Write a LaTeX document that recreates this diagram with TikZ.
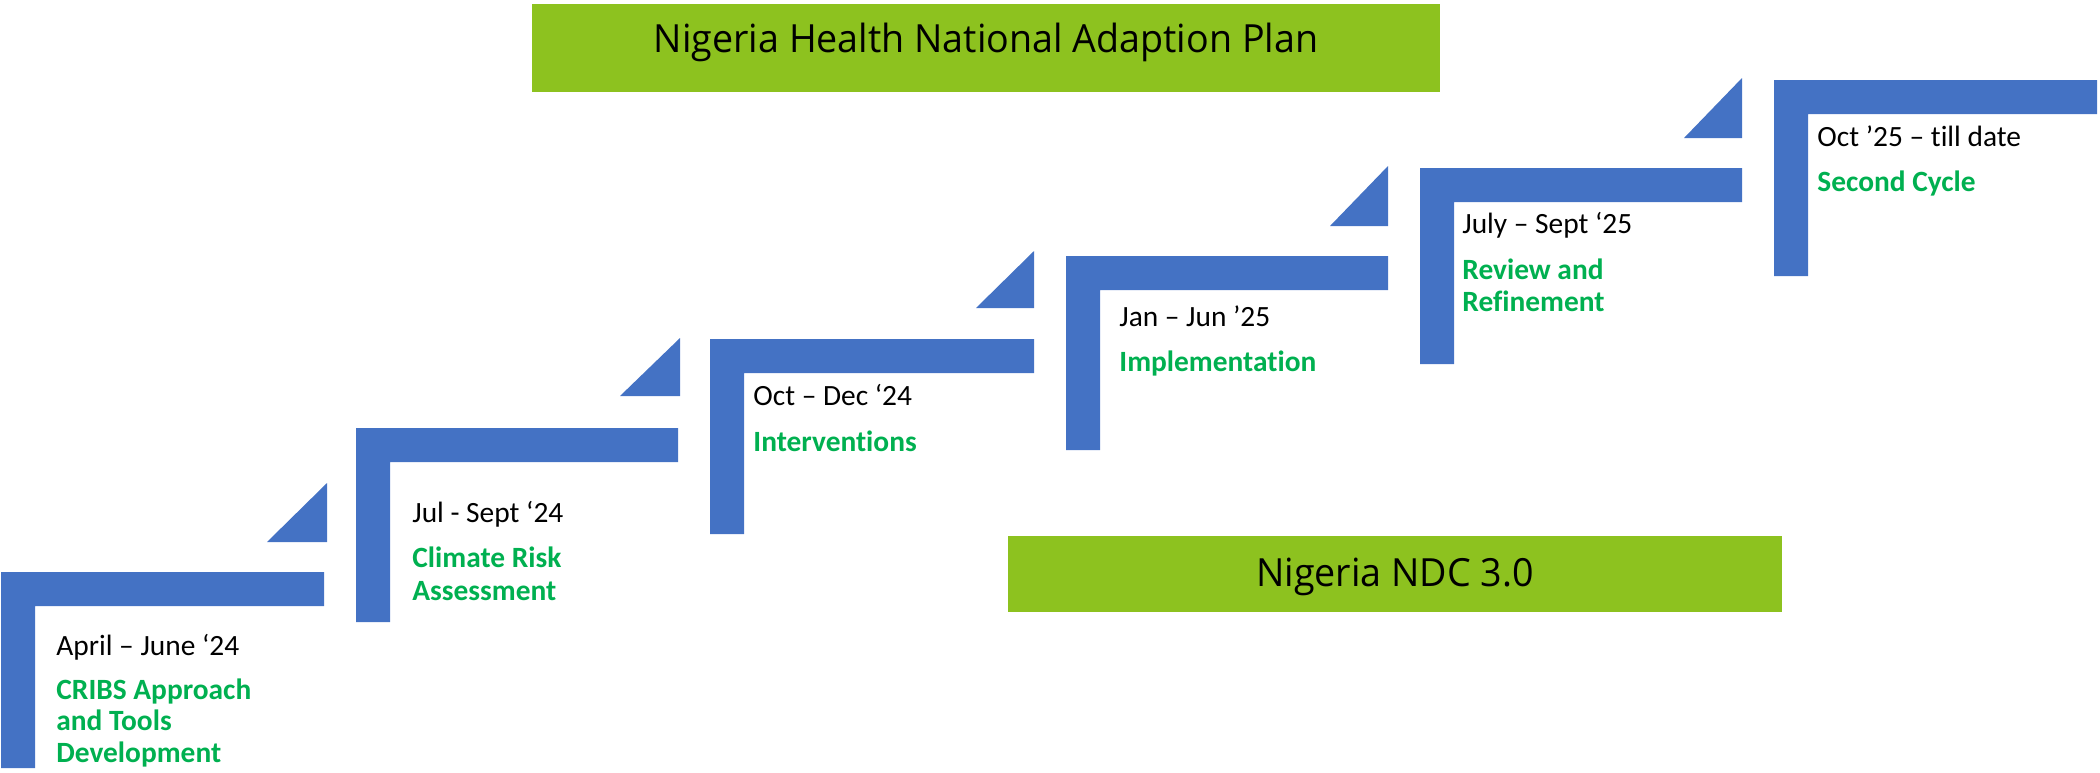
\documentclass[tikz,border=0pt]{standalone}
\usepackage{fontspec}
\setmainfont[Ligatures={NoCommon}]{Carlito}
\newfontfamily\bannerfont[FakeStretch=0.97]{Open Sans}
\usepackage{tikz}
\definecolor{stepblue}{HTML}{4472C4}
\definecolor{phasegreen}{HTML}{00B050}
\definecolor{bannergreen}{HTML}{8DC21F}
\tikzset{
	stepbar/.style={fill=stepblue},
	datetext/.style={anchor=base west, inner sep=0pt, font=\fontsize{14.7}{17}\selectfont},
	phasetext/.style={anchor=base west, inner sep=0pt, align=left, text=phasegreen, font=\fontsize{14.7}{15.75}\selectfont\bfseries},
	banner/.style={fill=bannergreen},
	bannertext/.style={anchor=base, inner sep=0pt, font=\bannerfont\fontsize{19.4}{23}\selectfont}
}

\begin{document}
\begin{tikzpicture}[x=0.5pt,y=-0.5pt]
						\useasboundingbox (0,0) rectangle (2100,772);
						\fill[banner] (532,4) rectangle (1440,92);
						\fill[banner] (1008,536) rectangle (1782,612);
						\node[bannertext] (napplan) at (986,52) {Nigeria Health National Adaption Plan};
						\node[bannertext] (ndc) at (1395,586) {Nigeria NDC 3.0};
						\fill[stepbar] (1,572) -- (324,572) -- (324,606) -- (35,606) -- (35,768) -- (1,768) -- cycle;
						\fill[stepbar] (356,428) -- (678,428) -- (678,462) -- (390,462) -- (390,622) -- (356,622) -- cycle;
						\fill[stepbar] (710,339) -- (1034,339) -- (1034,373) -- (744,373) -- (744,534) -- (710,534) -- cycle;
						\fill[stepbar] (1066,256) -- (1388,256) -- (1388,290) -- (1100,290) -- (1100,450) -- (1066,450) -- cycle;
						\fill[stepbar] (1420,168) -- (1742,168) -- (1742,202) -- (1454,202) -- (1454,364) -- (1420,364) -- cycle;
						\fill[stepbar] (1774,80) -- (2097,80) -- (2097,114) -- (1808,114) -- (1808,276) -- (1774,276) -- cycle;
						\fill[stepbar] (267,542) -- (327,542) -- (327,483) -- cycle;
						\fill[stepbar] (620,396) -- (680,396) -- (680,338) -- cycle;
						\fill[stepbar] (976,308) -- (1034,308) -- (1034,251) -- cycle;
						\fill[stepbar] (1330,226) -- (1388,226) -- (1388,166) -- cycle;
						\fill[stepbar] (1684,138) -- (1742,138) -- (1742,78) -- cycle;
						\node[datetext] (date1) at (56,655) {April – June ‘24};
						\node[phasetext] (phase1) at (56,762) {CRIBS Approach\\and Tools\\Development};
						\node[datetext] (date2) at (412,522) {Jul - Sept ‘24};
						\node[phasetext, font=\fontsize{14.7}{16.5}\selectfont\bfseries] (phase2) at (412,600) {Climate Risk\\Assessment};
						\node[datetext] (date3) at (753,405) {Oct – Dec ‘24};
						\node[phasetext] (phase3) at (753,451) {Interventions};
						\node[datetext] (date4) at (1119,326) {Jan – Jun ’25};
						\node[phasetext] (phase4) at (1119,371) {Implementation};
						\node[datetext] (date5) at (1462,233) {July – Sept ‘25};
						\node[phasetext] (phase5) at (1462,311) {Review and\\Refinement};
						\node[datetext] (date6) at (1817,146) {Oct ’25 – till date};
						\node[phasetext] (phase6) at (1817,191) {Second Cycle};
					\end{tikzpicture}
\end{document}
